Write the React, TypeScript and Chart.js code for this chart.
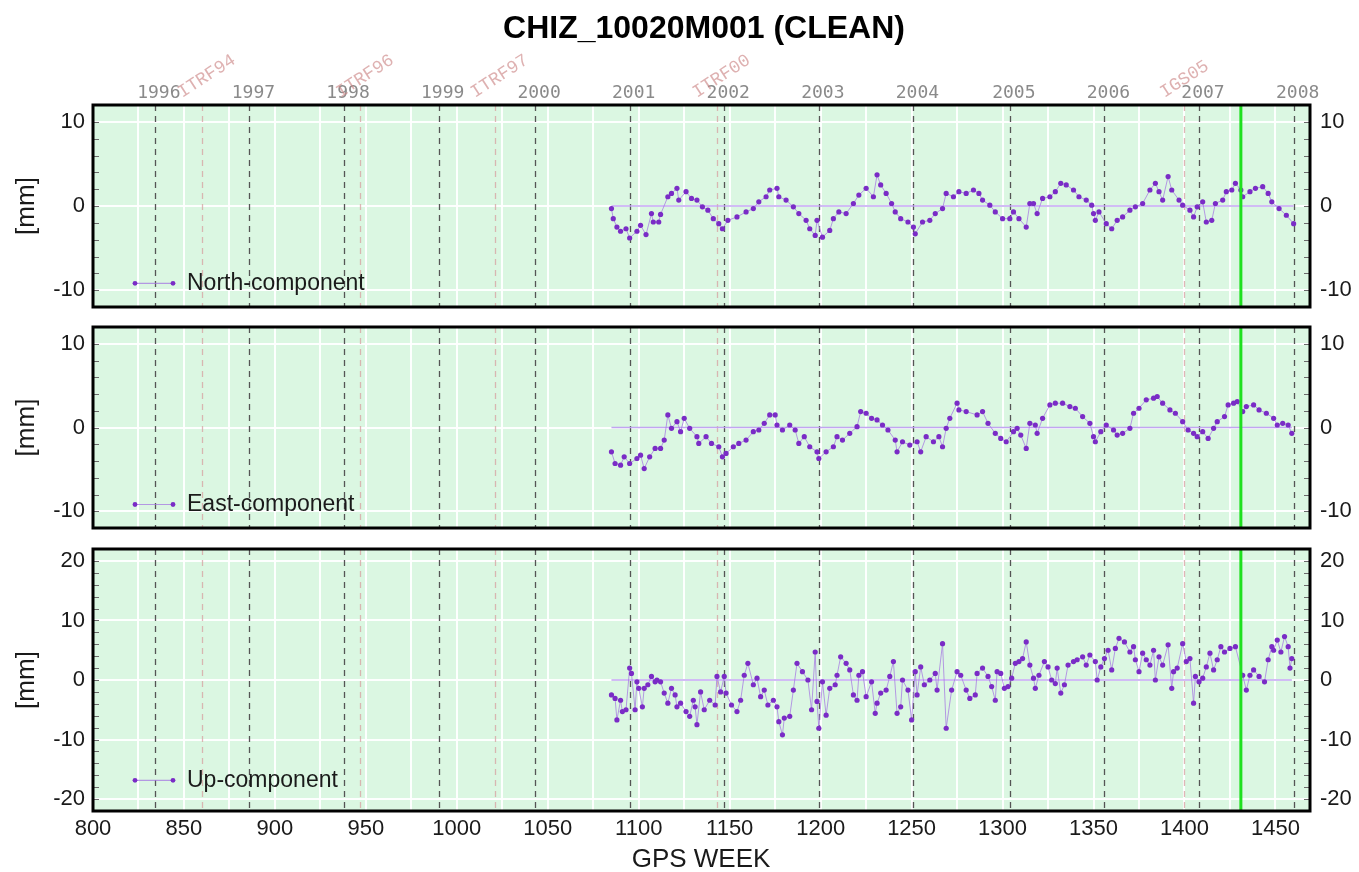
import React, { useEffect, useRef } from 'react';
import { Chart, registerables } from 'chart.js';

Chart.register(...registerables);

// ---------- data ----------
const titleText = 'CHIZ_10020M001 (CLEAN)';
const xAxisTitle = 'GPS WEEK';
const yAxisTitle = '[mm]';

const X_MIN = 800;
const X_MAX = 1469;

const yearLabels = ['1996', '1997', '1998', '1999', '2000', '2001', '2002', '2003', '2004', '2005', '2006', '2007', '2008'];
const yearWeeks = [834, 886, 938, 990, 1043, 1095, 1147, 1199, 1251, 1304, 1356, 1408, 1460];

const frameLabels = ['ITRF94', 'ITRF96', 'ITRF97', 'ITRF00', 'IGS05'];
const frameWeeks = [860, 947, 1021, 1143, 1400];

const markerWeek = 1431;

const northWeeks = [1085, 1086, 1088, 1090, 1093, 1095, 1099, 1101, 1104, 1107, 1108, 1111, 1112, 1116, 1118, 1121, 1122, 1126, 1129, 1132, 1135, 1138, 1141, 1144, 1146, 1149, 1154, 1159, 1163, 1166, 1170, 1172, 1176, 1177, 1181, 1185, 1188, 1192, 1194, 1197, 1198, 1201, 1205, 1207, 1210, 1214, 1218, 1221, 1225, 1229, 1231, 1233, 1236, 1239, 1241, 1244, 1248, 1251, 1252, 1256, 1260, 1263, 1267, 1269, 1273, 1276, 1280, 1284, 1287, 1289, 1293, 1296, 1300, 1304, 1306, 1309, 1313, 1315, 1317, 1319, 1322, 1326, 1329, 1332, 1335, 1339, 1342, 1346, 1349, 1350, 1351, 1353, 1357, 1360, 1363, 1366, 1370, 1373, 1377, 1381, 1384, 1386, 1388, 1391, 1393, 1397, 1399, 1403, 1405, 1407, 1410, 1412, 1415, 1417, 1421, 1423, 1426, 1428, 1431, 1432, 1436, 1439, 1443, 1446, 1448, 1452, 1456, 1460];
const northValues = [-0.3, -1.5, -2.5, -3.0, -2.7, -3.8, -3.0, -2.3, -3.4, -0.9, -1.9, -1.9, -1.0, 1.1, 1.5, 2.1, 0.7, 1.7, 0.9, 0.7, -0.1, -0.5, -1.5, -2.1, -2.7, -1.7, -1.3, -0.7, -0.3, 0.5, 1.1, 1.9, 2.1, 1.1, 0.7, -0.1, -0.9, -1.7, -2.7, -3.5, -1.7, -3.7, -2.9, -1.5, -0.7, -0.9, 0.3, 1.3, 2.1, 1.1, 3.7, 2.5, 1.5, 0.3, -0.7, -1.5, -1.9, -2.5, -3.3, -1.9, -1.7, -0.9, -0.3, 1.5, 1.1, 1.7, 1.5, 1.9, 1.5, 0.7, 0.1, -0.7, -1.5, -1.5, -0.7, -1.5, -2.5, 0.3, 0.3, -0.9, 0.9, 1.1, 1.7, 2.7, 2.5, 1.9, 1.1, 0.7, 0.1, -0.9, -1.7, -0.7, -2.1, -2.7, -1.7, -1.3, -0.5, -0.1, 0.3, 1.9, 2.7, 1.7, 0.7, 3.5, 1.9, 0.7, 0.1, -0.5, -1.3, -0.1, 0.5, -1.9, -1.7, 0.3, 0.7, 1.7, 1.9, 2.7, 1.9, 1.1, 1.7, 2.1, 2.3, 1.5, 0.5, -0.3, -1.1, -2.1];

const eastWeeks = [1085, 1087, 1090, 1092, 1095, 1099, 1101, 1103, 1106, 1109, 1112, 1114, 1116, 1118, 1121, 1123, 1125, 1128, 1132, 1133, 1137, 1140, 1144, 1146, 1148, 1152, 1155, 1159, 1163, 1166, 1169, 1172, 1175, 1176, 1179, 1183, 1186, 1188, 1191, 1194, 1198, 1199, 1203, 1207, 1209, 1212, 1216, 1220, 1222, 1225, 1228, 1231, 1234, 1237, 1241, 1242, 1245, 1249, 1253, 1255, 1258, 1262, 1265, 1267, 1269, 1271, 1275, 1276, 1280, 1286, 1289, 1292, 1296, 1299, 1302, 1306, 1308, 1310, 1313, 1315, 1318, 1319, 1322, 1326, 1329, 1333, 1337, 1340, 1344, 1348, 1350, 1351, 1354, 1357, 1361, 1363, 1366, 1370, 1372, 1375, 1379, 1383, 1385, 1388, 1392, 1395, 1399, 1402, 1405, 1407, 1410, 1413, 1416, 1418, 1422, 1424, 1427, 1429, 1432, 1434, 1438, 1441, 1445, 1449, 1451, 1454, 1457, 1459];
const eastValues = [-2.9, -4.3, -4.5, -3.5, -4.3, -3.7, -3.3, -4.9, -3.5, -2.5, -2.5, -1.5, 1.5, -0.1, 0.7, -0.5, 1.1, -0.1, -1.1, -1.9, -1.1, -1.9, -2.3, -3.5, -3.1, -2.3, -1.9, -1.5, -0.5, -0.3, 0.5, 1.5, 1.5, 0.3, -0.3, 0.3, -0.3, -1.9, -1.1, -2.3, -2.9, -3.7, -2.9, -2.3, -1.1, -1.5, -0.7, 0.1, 1.9, 1.7, 1.1, 0.9, 0.3, -0.3, -1.5, -2.9, -1.7, -2.1, -1.7, -2.9, -1.1, -1.7, -1.1, -2.3, -0.1, 1.1, 2.9, 2.1, 1.9, 1.5, 1.9, 0.5, -0.7, -1.3, -1.7, -0.5, -0.1, -0.9, -2.5, 0.5, 0.3, -0.7, 1.1, 2.7, 2.9, 2.9, 2.5, 2.3, 1.3, 0.5, -1.1, -1.7, -0.5, 0.3, -0.3, -0.9, -0.7, -0.1, 1.7, 2.3, 3.3, 3.5, 3.7, 2.9, 2.1, 1.7, 0.7, -0.3, -0.7, -1.1, -0.5, -1.3, -0.1, 0.7, 1.3, 2.7, 2.9, 3.1, 1.9, 2.5, 2.7, 2.1, 1.7, 1.1, 0.3, 0.5, 0.3, -0.7];

const upWeeks = [1085, 1087, 1088, 1090, 1091, 1093, 1095, 1096, 1098, 1099, 1100, 1102, 1103, 1105, 1107, 1109, 1110, 1112, 1114, 1116, 1118, 1120, 1121, 1123, 1126, 1128, 1130, 1131, 1132, 1134, 1136, 1139, 1142, 1143, 1145, 1147, 1148, 1151, 1154, 1156, 1158, 1160, 1163, 1165, 1167, 1169, 1171, 1174, 1176, 1177, 1179, 1180, 1183, 1185, 1187, 1190, 1193, 1195, 1197, 1198, 1199, 1201, 1203, 1205, 1208, 1209, 1211, 1214, 1216, 1218, 1220, 1221, 1223, 1225, 1228, 1230, 1231, 1233, 1236, 1238, 1240, 1242, 1244, 1245, 1248, 1250, 1252, 1253, 1255, 1257, 1260, 1263, 1264, 1267, 1269, 1272, 1275, 1277, 1280, 1282, 1285, 1286, 1289, 1292, 1294, 1296, 1297, 1299, 1301, 1303, 1305, 1307, 1309, 1311, 1313, 1315, 1317, 1318, 1320, 1323, 1325, 1327, 1329, 1330, 1332, 1334, 1336, 1339, 1341, 1344, 1346, 1348, 1351, 1352, 1354, 1356, 1358, 1360, 1362, 1364, 1367, 1370, 1372, 1373, 1375, 1377, 1379, 1381, 1383, 1384, 1386, 1388, 1391, 1393, 1394, 1396, 1399, 1401, 1403, 1405, 1406, 1408, 1410, 1412, 1414, 1416, 1418, 1420, 1422, 1425, 1428, 1432, 1434, 1436, 1438, 1441, 1444, 1446, 1448, 1449, 1451, 1453, 1455, 1457, 1458, 1459];
const upValues = [-2.5, -3.1, -6.7, -3.4, -5.3, -5.0, 2.0, 1.1, -5.0, -0.3, -1.4, -4.5, -1.4, -0.8, 0.6, -0.3, 0.0, -0.3, -2.2, -3.9, -1.4, -2.5, -4.5, -3.9, -5.3, -6.1, -3.4, -4.5, -7.5, -2.0, -5.0, -3.4, -4.2, 0.6, -2.0, 0.6, -2.2, -4.2, -5.3, -3.4, 0.8, 2.8, -0.8, 0.3, -2.8, -1.7, -4.2, -3.4, -4.5, -7.0, -9.2, -6.4, -6.1, -1.7, 2.8, 1.4, 0.0, -5.0, 4.7, -3.6, -8.1, -0.3, -5.9, -1.4, -0.8, 0.8, 3.9, 2.8, 1.7, -2.5, -3.4, 0.8, 1.4, -2.8, -0.3, -5.6, -3.9, -2.2, -1.7, 0.6, 3.1, -5.6, -4.5, 0.0, -1.7, -6.7, 1.4, -2.5, 2.2, -0.8, 0.0, 1.1, -1.7, 6.1, -8.1, -1.7, 1.4, 0.8, -1.7, -3.1, -2.5, 1.1, 2.0, 0.6, -1.1, -3.4, 1.4, 1.1, -1.4, -1.1, 0.3, 2.8, 3.1, 3.6, 6.4, 2.5, 0.3, -1.4, 0.8, 3.1, 2.2, 0.0, -0.6, 2.0, -2.2, -0.8, 2.5, 3.1, 3.4, 3.9, 2.5, 4.2, 3.1, 0.0, 2.2, 3.6, 5.0, 1.7, 5.3, 7.0, 6.4, 4.7, 5.6, 3.4, 1.4, 4.5, 3.4, 2.5, 5.0, 0.0, 3.9, 2.5, 5.9, -1.4, 1.4, 2.0, 6.1, 3.1, 3.6, -3.9, 0.6, -0.3, 0.3, 2.2, 4.5, 1.7, 3.4, 5.6, 4.7, 5.3, 5.6, 0.8, -1.7, 0.8, 1.7, 0.6, -0.3, 3.4, 5.6, 5.0, 6.7, 4.7, 7.3, 5.6, 2.0, 3.6];

// ---------- styling / layout ----------
const W = 1359;
const H = 872;
const PLOT_LEFT = 93;
const PLOT_RIGHT = 1310;
const SANS = '"Liberation Sans", Arial, Helvetica, sans-serif';
const BG = 'rgb(219, 247, 226)';
const GRID = 'rgba(255,255,255,0.95)';
const POINT = '#7a2cc6';
const LINE = 'rgba(165, 120, 225, 0.75)';
const MEAN = 'rgba(190, 160, 240, 0.95)';

type PanelCfg = {
  key: string;
  label: string;
  weeks: number[];
  values: number[];
  top: number;
  bottom: number;
  yMin: number;
  yMax: number;
  minor: number;
  first: boolean;
  last: boolean;
};

const panels: PanelCfg[] = [
  { key: 'north', label: 'North-component', weeks: northWeeks, values: northValues, top: 105, bottom: 307, yMin: -12, yMax: 12, minor: 2, first: true, last: false },
  { key: 'east', label: 'East-component', weeks: eastWeeks, values: eastValues, top: 327, bottom: 528, yMin: -12, yMax: 12, minor: 2, first: false, last: false },
  { key: 'up', label: 'Up-component', weeks: upWeeks, values: upValues, top: 549, bottom: 811, yMin: -22, yMax: 22, minor: 2, first: false, last: true },
];

function vline(ctx: CanvasRenderingContext2D, x: number, y0: number, y1: number) {
  ctx.beginPath();
  ctx.moveTo(x, y0);
  ctx.lineTo(x, y1);
  ctx.stroke();
}

function Panel({ cfg }: { cfg: PanelCfg }) {
  const ref = useRef<HTMLCanvasElement>(null);

  useEffect(() => {
    const canvas = ref.current;
    if (!canvas) return;
    const pts = cfg.weeks.map((w, i) => ({ x: w, y: cfg.values[i] }));
    const meanPts = [
      { x: cfg.weeks[0], y: 0 },
      { x: cfg.weeks[cfg.weeks.length - 1], y: 0 },
    ];

    const decor = {
      id: 'decor_' + cfg.key,
      beforeDraw(chart: any) {
        const { ctx, chartArea: a } = chart;
        ctx.save();
        ctx.fillStyle = BG;
        ctx.fillRect(a.left, a.top, a.right - a.left, a.bottom - a.top);
        ctx.restore();
      },
      beforeDatasetsDraw(chart: any) {
        const { ctx, chartArea: a, scales } = chart;
        const xs = scales.x;
        ctx.save();
        ctx.beginPath();
        ctx.rect(a.left, a.top, a.right - a.left, a.bottom - a.top);
        ctx.clip();
        ctx.lineWidth = 1.3;
        ctx.setLineDash([6, 5]);
        ctx.strokeStyle = 'rgba(215, 165, 165, 0.8)';
        frameWeeks.forEach((w) => vline(ctx, Math.round(xs.getPixelForValue(w)) + 0.5, a.top, a.bottom));
        ctx.strokeStyle = '#555555';
        yearWeeks.forEach((w) => vline(ctx, Math.round(xs.getPixelForValue(w)) + 0.5, a.top, a.bottom));
        ctx.restore();
      },
      afterDatasetsDraw(chart: any) {
        const { ctx, chartArea: a, scales } = chart;
        const xs = scales.x;
        const ys = scales.y;
        ctx.save();
        // marker line
        ctx.strokeStyle = '#1ee01e';
        ctx.lineWidth = 3;
        vline(ctx, xs.getPixelForValue(markerWeek), a.top, a.bottom);
        // inner minor ticks
        ctx.strokeStyle = '#6a6a6a';
        ctx.lineWidth = 1;
        for (let v = Math.ceil(cfg.yMin / cfg.minor) * cfg.minor; v <= cfg.yMax; v += cfg.minor) {
          const py = Math.round(ys.getPixelForValue(v)) + 0.5;
          ctx.beginPath();
          ctx.moveTo(a.left, py);
          ctx.lineTo(a.left + 6, py);
          ctx.moveTo(a.right - 6, py);
          ctx.lineTo(a.right, py);
          ctx.stroke();
        }
        // frame
        ctx.strokeStyle = '#000';
        ctx.lineWidth = 3;
        ctx.strokeRect(a.left, a.top, a.right - a.left, a.bottom - a.top);
        ctx.restore();
      },
      afterDraw(chart: any) {
        const { ctx, chartArea: a, scales } = chart;
        const xs = scales.x;
        ctx.save();
        // legend
        const ly = a.bottom - 0.117 * (a.bottom - a.top);
        ctx.strokeStyle = LINE;
        ctx.lineWidth = 1.2;
        ctx.beginPath();
        ctx.moveTo(135, ly);
        ctx.lineTo(173, ly);
        ctx.stroke();
        ctx.fillStyle = POINT;
        [135, 173].forEach((lx) => {
          ctx.beginPath();
          ctx.arc(lx, ly, 2.4, 0, Math.PI * 2);
          ctx.fill();
        });
        ctx.fillStyle = '#1a1a1a';
        ctx.font = '23px ' + SANS;
        ctx.textAlign = 'left';
        ctx.textBaseline = 'middle';
        ctx.fillText(cfg.label, 187, ly);

        // y axis title
        ctx.save();
        ctx.translate(27, (a.top + a.bottom) / 2);
        ctx.rotate(-Math.PI / 2);
        ctx.font = '26px ' + SANS;
        ctx.textAlign = 'center';
        ctx.textBaseline = 'middle';
        ctx.fillStyle = '#1a1a1a';
        ctx.fillText(yAxisTitle, 0, 0);
        ctx.restore();

        if (cfg.first) {
          ctx.fillStyle = '#000';
          ctx.font = 'bold 32px ' + SANS;
          ctx.textAlign = 'center';
          ctx.textBaseline = 'alphabetic';
          ctx.fillText(titleText, 704, 38);

          ctx.fillStyle = '#8a8a8a';
          ctx.font = '18px "DejaVu Sans Mono", monospace';
          yearLabels.forEach((lab, i) => {
            ctx.fillText(lab, xs.getPixelForValue(yearWeeks[i]) + 4, 98);
          });

          ctx.fillStyle = 'rgba(205, 135, 135, 0.65)';
          ctx.font = '18px "Liberation Mono", "Courier New", monospace';
          ctx.textAlign = 'left';
          frameLabels.forEach((lab, i) => {
            ctx.save();
            ctx.translate(xs.getPixelForValue(frameWeeks[i]) - 20, 98);
            ctx.rotate((-33 * Math.PI) / 180);
            ctx.fillText(lab, 0, 0);
            ctx.restore();
          });
        }
        if (cfg.last) {
          ctx.fillStyle = '#1a1a1a';
          ctx.font = '26px ' + SANS;
          ctx.textAlign = 'center';
          ctx.textBaseline = 'alphabetic';
          ctx.fillText(xAxisTitle, 701, 867);
        }
        ctx.restore();
      },
    };

    const tickFont = { family: SANS, size: 22 };
    const leftW = PLOT_LEFT;
    const rightW = W - PLOT_RIGHT;
    const bottomH = H - cfg.bottom;

    const chart = new Chart(canvas, {
      type: 'line',
      data: {
        datasets: [
          {
            data: pts,
            borderColor: LINE,
            borderWidth: 1,
            pointRadius: 2.6,
            pointHoverRadius: 2.6,
            pointBackgroundColor: POINT,
            pointBorderWidth: 0,
            tension: 0,
          },
          {
            data: meanPts,
            borderColor: MEAN,
            borderWidth: 1.5,
            pointRadius: 0,
            pointHoverRadius: 0,
          },
        ],
      },
      options: {
        responsive: false,
        animation: false,
        events: [],
        layout: { padding: { left: 0, right: 0, top: cfg.top, bottom: 0 } },
        plugins: { legend: { display: false }, tooltip: { enabled: false }, title: { display: false } },
        scales: {
          x: {
            type: 'linear',
            position: 'bottom',
            min: X_MIN,
            max: X_MAX,
            afterFit: (s: any) => {
              s.height = bottomH;
            },
            ticks: {
              display: cfg.last,
              stepSize: 25,
              includeBounds: false,
              autoSkip: false,
              maxRotation: 0,
              minRotation: 0,
              padding: 5,
              color: '#1a1a1a',
              font: tickFont,
              callback: (v: any) => (Number(v) % 50 === 0 ? String(v) : ''),
            },
            grid: { color: GRID, lineWidth: 2, drawTicks: false },
            border: { display: false },
          },
          y: {
            type: 'linear',
            position: 'left',
            min: cfg.yMin,
            max: cfg.yMax,
            afterFit: (s: any) => {
              s.width = leftW;
            },
            ticks: { stepSize: 10, includeBounds: false, padding: 8, color: '#1a1a1a', font: tickFont },
            grid: { color: GRID, lineWidth: 2, drawTicks: false },
            border: { display: false },
          },
          y2: {
            type: 'linear',
            position: 'right',
            min: cfg.yMin,
            max: cfg.yMax,
            afterFit: (s: any) => {
              s.width = rightW;
            },
            ticks: { stepSize: 10, includeBounds: false, padding: 10, color: '#1a1a1a', font: tickFont },
            grid: { display: false, drawOnChartArea: false, drawTicks: false },
            border: { display: false },
          },
        },
      },
      plugins: [decor],
    } as any);

    return () => chart.destroy();
  }, [cfg]);

  return <canvas ref={ref} width={W} height={H} style={{ position: 'absolute', left: 0, top: 0 }} />;
}

export default function App() {
  return (
    <div style={{ position: 'absolute', left: 0, top: 0, width: W, height: H, background: '#fff', overflow: 'hidden' }}>
      {panels.map((p) => (
        <Panel key={p.key} cfg={p} />
      ))}
    </div>
  );
}
